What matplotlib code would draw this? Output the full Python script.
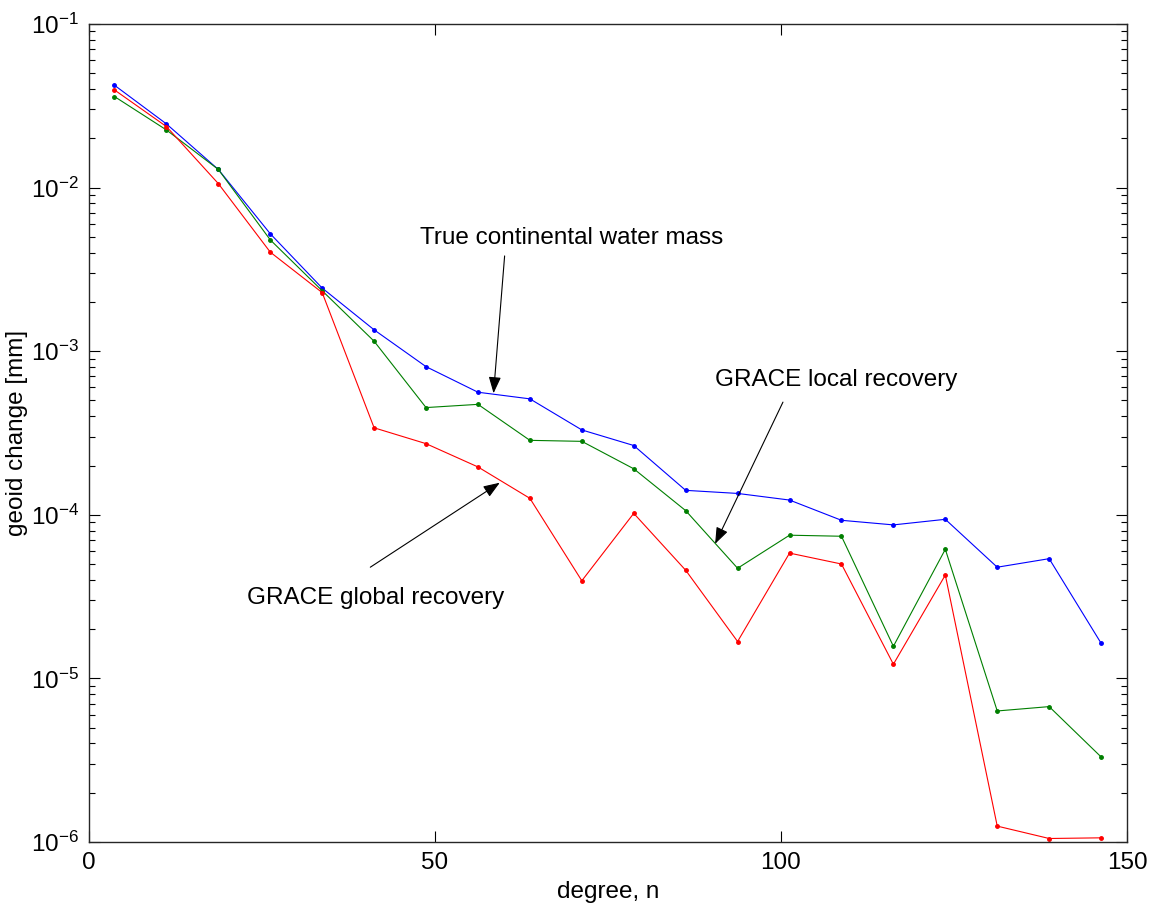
import matplotlib
matplotlib.use("Agg")
import matplotlib.pyplot as plt

plt.rcParams['font.family'] = ['Liberation Sans', 'DejaVu Sans']
plt.rcParams['mathtext.default'] = 'regular'

# degree bins (centres)
degree = [3.75, 11.25, 18.75, 26.25, 33.75, 41.25, 48.75, 56.25, 63.75, 71.25,
          78.75, 86.25, 93.75, 101.25, 108.75, 116.25, 123.75, 131.25, 138.75, 146.25]

true_mass = [4.22e-2, 2.45e-2, 1.29e-2, 5.22e-3, 2.43e-3, 1.35e-3, 8.04e-4, 5.61e-4, 5.11e-4, 3.30e-4,
             2.65e-4, 1.41e-4, 1.35e-4, 1.23e-4, 9.25e-5, 8.67e-5, 9.38e-5, 4.78e-5, 5.39e-5, 1.64e-5]

local_rec = [3.60e-2, 2.25e-2, 1.29e-2, 4.79e-3, 2.34e-3, 1.15e-3, 4.52e-4, 4.73e-4, 2.85e-4, 2.81e-4,
             1.91e-4, 1.06e-4, 4.71e-5, 7.50e-5, 7.39e-5, 1.57e-5, 6.15e-5, 6.32e-6, 6.72e-6, 3.31e-6]

global_rec = [3.95e-2, 2.36e-2, 1.057e-2, 4.03e-3, 2.28e-3, 3.40e-4, 2.72e-4, 1.96e-4, 1.26e-4, 3.95e-5,
              1.02e-4, 4.58e-5, 1.68e-5, 5.83e-5, 5.00e-5, 1.22e-5, 4.28e-5, 1.25e-6, 1.05e-6, 1.06e-6]

fs = 17.5

fig = plt.figure(figsize=(11.51, 9.07), dpi=100)
ax = fig.add_axes([0.0769, 0.0717, 0.9023, 0.9019])

ax.semilogy(degree, true_mass, '.-', color='#0000ff', lw=0.8, ms=5)
ax.semilogy(degree, local_rec, '.-', color='#007f00', lw=0.8, ms=5)
ax.semilogy(degree, global_rec, '.-', color='#ff0000', lw=0.8, ms=5)

ax.set_xlim(0, 150)
ax.set_ylim(1e-6, 1e-1)
ax.set_xticks([0, 50, 100, 150])
ax.tick_params(which='both', direction='in', top=True, right=True, labelsize=fs, colors='k')
ax.tick_params(which='major', length=8, width=0.8, pad=7)
ax.tick_params(which='minor', length=4, width=0.8)
for s in ax.spines.values():
    s.set_linewidth(1.0)
    s.set_color('#262626')

ax.set_xlabel('degree, n', fontsize=fs, labelpad=5)
ax.set_ylabel('geoid change [mm]', fontsize=fs, labelpad=2)

arr = dict(arrowstyle='-|>,head_length=0.4,head_width=0.15', color='k', lw=0.8,
           mutation_scale=25, shrinkA=0, shrinkB=0)

ax.text(69.8, 4.95e-3, 'True continental water mass', fontsize=fs, ha='center', va='center')
ax.annotate('', xy=(58.5, 5.53e-4), xytext=(60.1, 3.82e-3), arrowprops=arr)

ax.text(108.0, 6.67e-4, 'GRACE local recovery', fontsize=fs, ha='center', va='center')
ax.annotate('', xy=(90.5, 6.64e-5), xytext=(100.3, 4.88e-4), arrowprops=arr)

ax.text(41.4, 3.1e-5, 'GRACE global recovery', fontsize=fs, ha='center', va='center')
ax.annotate('', xy=(59.4, 1.57e-4), xytext=(40.7, 4.78e-5), arrowprops=arr)

fig.savefig('out.png', dpi=100)
